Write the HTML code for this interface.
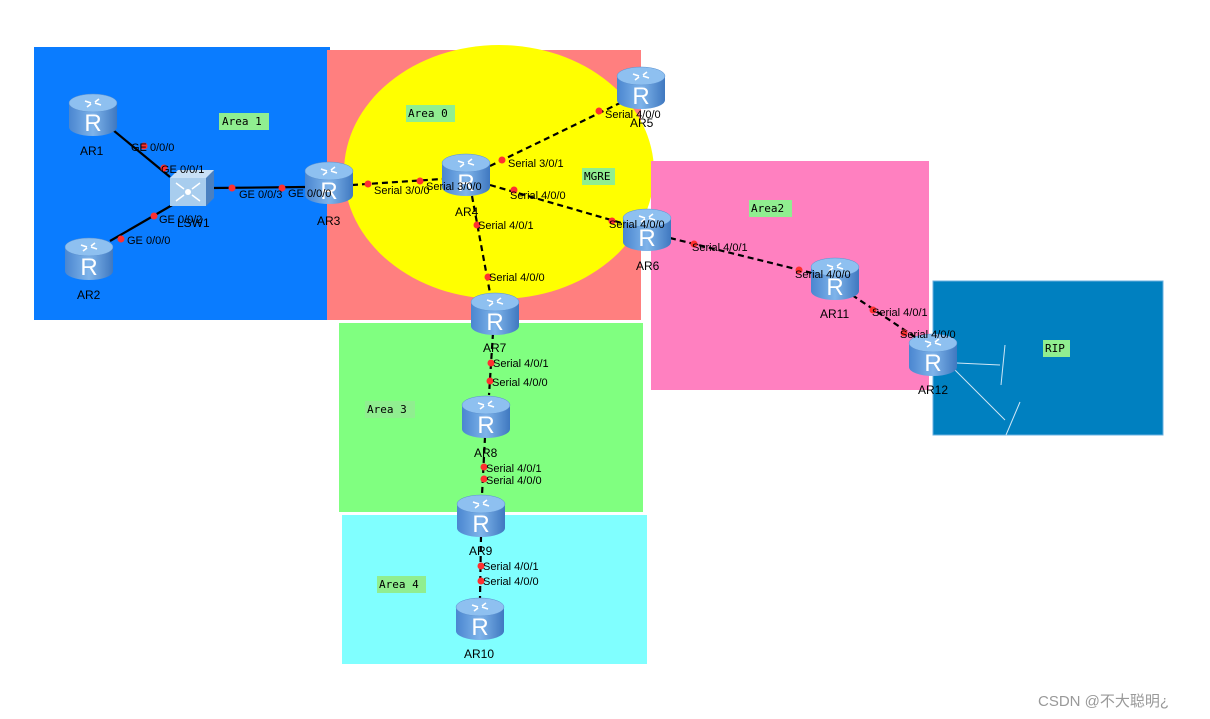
<!DOCTYPE html>
<html><head><meta charset="utf-8"><style>
html,body{margin:0;padding:0;background:#fff;width:1210px;height:719px;overflow:hidden}
svg text{font-family:"Liberation Sans",sans-serif;font-size:11px;fill:#000}
svg text.lb{font-size:12px}
svg text.m{font-family:"DejaVu Sans Mono","Liberation Mono",monospace;font-size:11px}
</style></head><body>
<svg width="1210" height="719" xmlns="http://www.w3.org/2000/svg">
<defs>
<linearGradient id="g" x1="0" x2="1" y1="0" y2="0">
<stop offset="0" stop-color="#4a86d0"/><stop offset="0.5" stop-color="#7fb4ea"/><stop offset="1" stop-color="#3f78c0"/></linearGradient>
<g id="r">
<path d="M-24,-12 L-24,12 A24,9 0 0 0 24,12 L24,-12 Z" fill="url(#g)"/>
<ellipse cx="0" cy="-12" rx="24" ry="9" fill="#8ec0f0" stroke="#5a90d0" stroke-width="0.5"/>
<path d="M-8,-14 l6,2 M8,-10 l-6,-2 M-6,-8 l4,-3 M6,-16 l-4,3" stroke="#fff" stroke-width="1.6"/>
<text x="0" y="16" text-anchor="middle" style="font-size:24px;fill:#fff;font-family:'Liberation Sans',sans-serif">R</text>
</g>
</defs>
<rect x="34" y="47" width="296" height="273" fill="#0a7cff"/>
<rect x="327" y="50" width="314" height="270" fill="#ff7f7f"/>
<ellipse cx="499" cy="172" rx="155" ry="127" fill="#ffff00"/>
<rect x="651" y="161" width="278" height="229" fill="#ff80c0"/>
<rect x="339" y="323" width="304" height="189" fill="#80ff80"/>
<rect x="342" y="515" width="305" height="149" fill="#80ffff"/>
<rect x="933" y="281" width="230" height="154" fill="#0080c0" stroke="#6ab0e0" stroke-width="1"/>

<g stroke="#000" stroke-width="2.2">
<line x1="113" y1="130" x2="170" y2="177"/>
<line x1="110" y1="241" x2="174" y2="204"/>
<line x1="212" y1="188" x2="305" y2="187"/>
</g>
<g stroke="#000" stroke-width="2.2" stroke-dasharray="6,4">
<line x1="352" y1="185" x2="442" y2="179"/>
<line x1="490" y1="166" x2="620" y2="103"/>
<line x1="490" y1="185" x2="625" y2="224"/>
<line x1="472" y1="196" x2="490" y2="293"/>
<line x1="670" y1="238" x2="812" y2="273"/>
<line x1="852" y1="295" x2="915" y2="337"/>
<line x1="493" y1="333" x2="489" y2="395"/>
<line x1="485" y1="437" x2="482" y2="495"/>
<line x1="481" y1="536" x2="480" y2="598"/>
</g>
<g stroke="#cfe6f5" stroke-width="1">
<line x1="957" y1="363" x2="1000" y2="365"/><line x1="1005" y1="345" x2="1001" y2="385"/>
<line x1="955" y1="370" x2="1005" y2="420"/><line x1="1020" y1="402" x2="1006" y2="435"/>
</g>
<g fill="#ff3030">
<circle cx="144" cy="146" r="3.5"/><circle cx="164" cy="168" r="3.5"/>
<circle cx="154" cy="216" r="3.5"/><circle cx="121" cy="239" r="3.5"/>
<circle cx="232" cy="188" r="3.5"/><circle cx="282" cy="188" r="3.5"/>
<circle cx="368" cy="184" r="3.5"/><circle cx="420" cy="181" r="3.5"/>
<circle cx="502" cy="160" r="3.5"/><circle cx="599" cy="111" r="3.5"/>
<circle cx="514" cy="190" r="3.5"/><circle cx="612" cy="221" r="3.5"/>
<circle cx="477" cy="225" r="3.5"/><circle cx="488" cy="277" r="3.5"/>
<circle cx="694" cy="244" r="3.5"/><circle cx="799" cy="270" r="3.5"/>
<circle cx="873" cy="310" r="3.5"/><circle cx="904" cy="333" r="3.5"/>
<circle cx="491" cy="363" r="3.5"/><circle cx="490" cy="381" r="3.5"/>
<circle cx="484" cy="467" r="3.5"/><circle cx="484" cy="479" r="3.5"/>
<circle cx="481" cy="566" r="3.5"/><circle cx="481" cy="581" r="3.5"/>
</g>

<use href="#r" x="93" y="115"/><use href="#r" x="89" y="259"/>
<use href="#r" x="329" y="183"/><use href="#r" x="466" y="175"/>
<use href="#r" x="641" y="88"/><use href="#r" x="647" y="230"/>
<use href="#r" x="495" y="314"/><use href="#r" x="486" y="417"/>
<use href="#r" x="481" y="516"/><use href="#r" x="480" y="619"/>
<use href="#r" x="835" y="279"/><use href="#r" x="933" y="355"/>
<path d="M170,178 L178,170 L214,170 L214,198 L206,206 L206,178 Z" fill="#4a80c0"/>
<path d="M170,178 L178,170 L214,170 L206,178 Z" fill="#c8e0f6"/>
<rect x="170" y="178" width="36" height="28" fill="#a8cdee"/>
<circle cx="188" cy="192" r="3" fill="#fff"/>
<g stroke="#fff" stroke-width="1.5"><line x1="176" y1="183" x2="184" y2="189"/><line x1="200" y1="183" x2="192" y2="189"/><line x1="176" y1="201" x2="184" y2="195"/><line x1="200" y1="201" x2="192" y2="195"/></g>

<g>
<text class="lb" x="80" y="155">AR1</text><text class="lb" x="77" y="299">AR2</text>
<text class="lb" x="177" y="227">LSW1</text><text class="lb" x="317" y="225">AR3</text>
<text class="lb" x="455" y="216">AR4</text><text class="lb" x="630" y="127">AR5</text>
<text class="lb" x="636" y="270">AR6</text><text class="lb" x="483" y="352">AR7</text>
<text class="lb" x="474" y="457">AR8</text><text class="lb" x="469" y="555">AR9</text>
<text class="lb" x="464" y="658">AR10</text><text class="lb" x="820" y="318">AR11</text>
<text class="lb" x="918" y="394">AR12</text>
</g>
<g>
<text x="131" y="151">GE 0/0/0</text><text x="161" y="173">GE 0/0/1</text>
<text x="159" y="223">GE 0/0/2</text><text x="127" y="244">GE 0/0/0</text>
<text x="239" y="198">GE 0/0/3</text><text x="288" y="197">GE 0/0/0</text>
<text x="374" y="194">Serial 3/0/0</text><text x="426" y="190">Serial 3/0/0</text>
<text x="508" y="167">Serial 3/0/1</text><text x="605" y="118">Serial 4/0/0</text>
<text x="510" y="199">Serial 4/0/0</text><text x="609" y="228">Serial 4/0/0</text>
<text x="478" y="229">Serial 4/0/1</text><text x="489" y="281">Serial 4/0/0</text>
<text x="692" y="251">Serial 4/0/1</text><text x="795" y="278">Serial 4/0/0</text>
<text x="872" y="316">Serial 4/0/1</text><text x="900" y="338">Serial 4/0/0</text>
<text x="493" y="367">Serial 4/0/1</text><text x="492" y="386">Serial 4/0/0</text>
<text x="486" y="472">Serial 4/0/1</text><text x="486" y="484">Serial 4/0/0</text>
<text x="483" y="570">Serial 4/0/1</text><text x="483" y="585">Serial 4/0/0</text>
</g>
<g fill="#90ee90">
<rect x="219" y="113" width="50" height="17"/><rect x="406" y="105" width="49" height="17"/>
<rect x="582" y="168" width="33" height="17"/><rect x="749" y="200" width="43" height="17"/>
<rect x="365" y="401" width="50" height="17"/><rect x="377" y="576" width="49" height="17"/>
<rect x="1043" y="340" width="27" height="17"/>
</g>
<g>
<text class="m" x="222" y="125">Area 1</text><text class="m" x="408" y="117">Area 0</text>
<text class="m" x="584" y="180">MGRE</text><text class="m" x="751" y="212">Area2</text>
<text class="m" x="367" y="413">Area 3</text><text class="m" x="379" y="588">Area 4</text>
<text class="m" x="1045" y="352">RIP</text>
</g>
<text x="1038" y="706" style="font-family:'Liberation Sans','Noto Sans CJK SC',sans-serif;font-size:15px;fill:#999">CSDN @不大聪明¿</text>
</svg>
</body></html>
